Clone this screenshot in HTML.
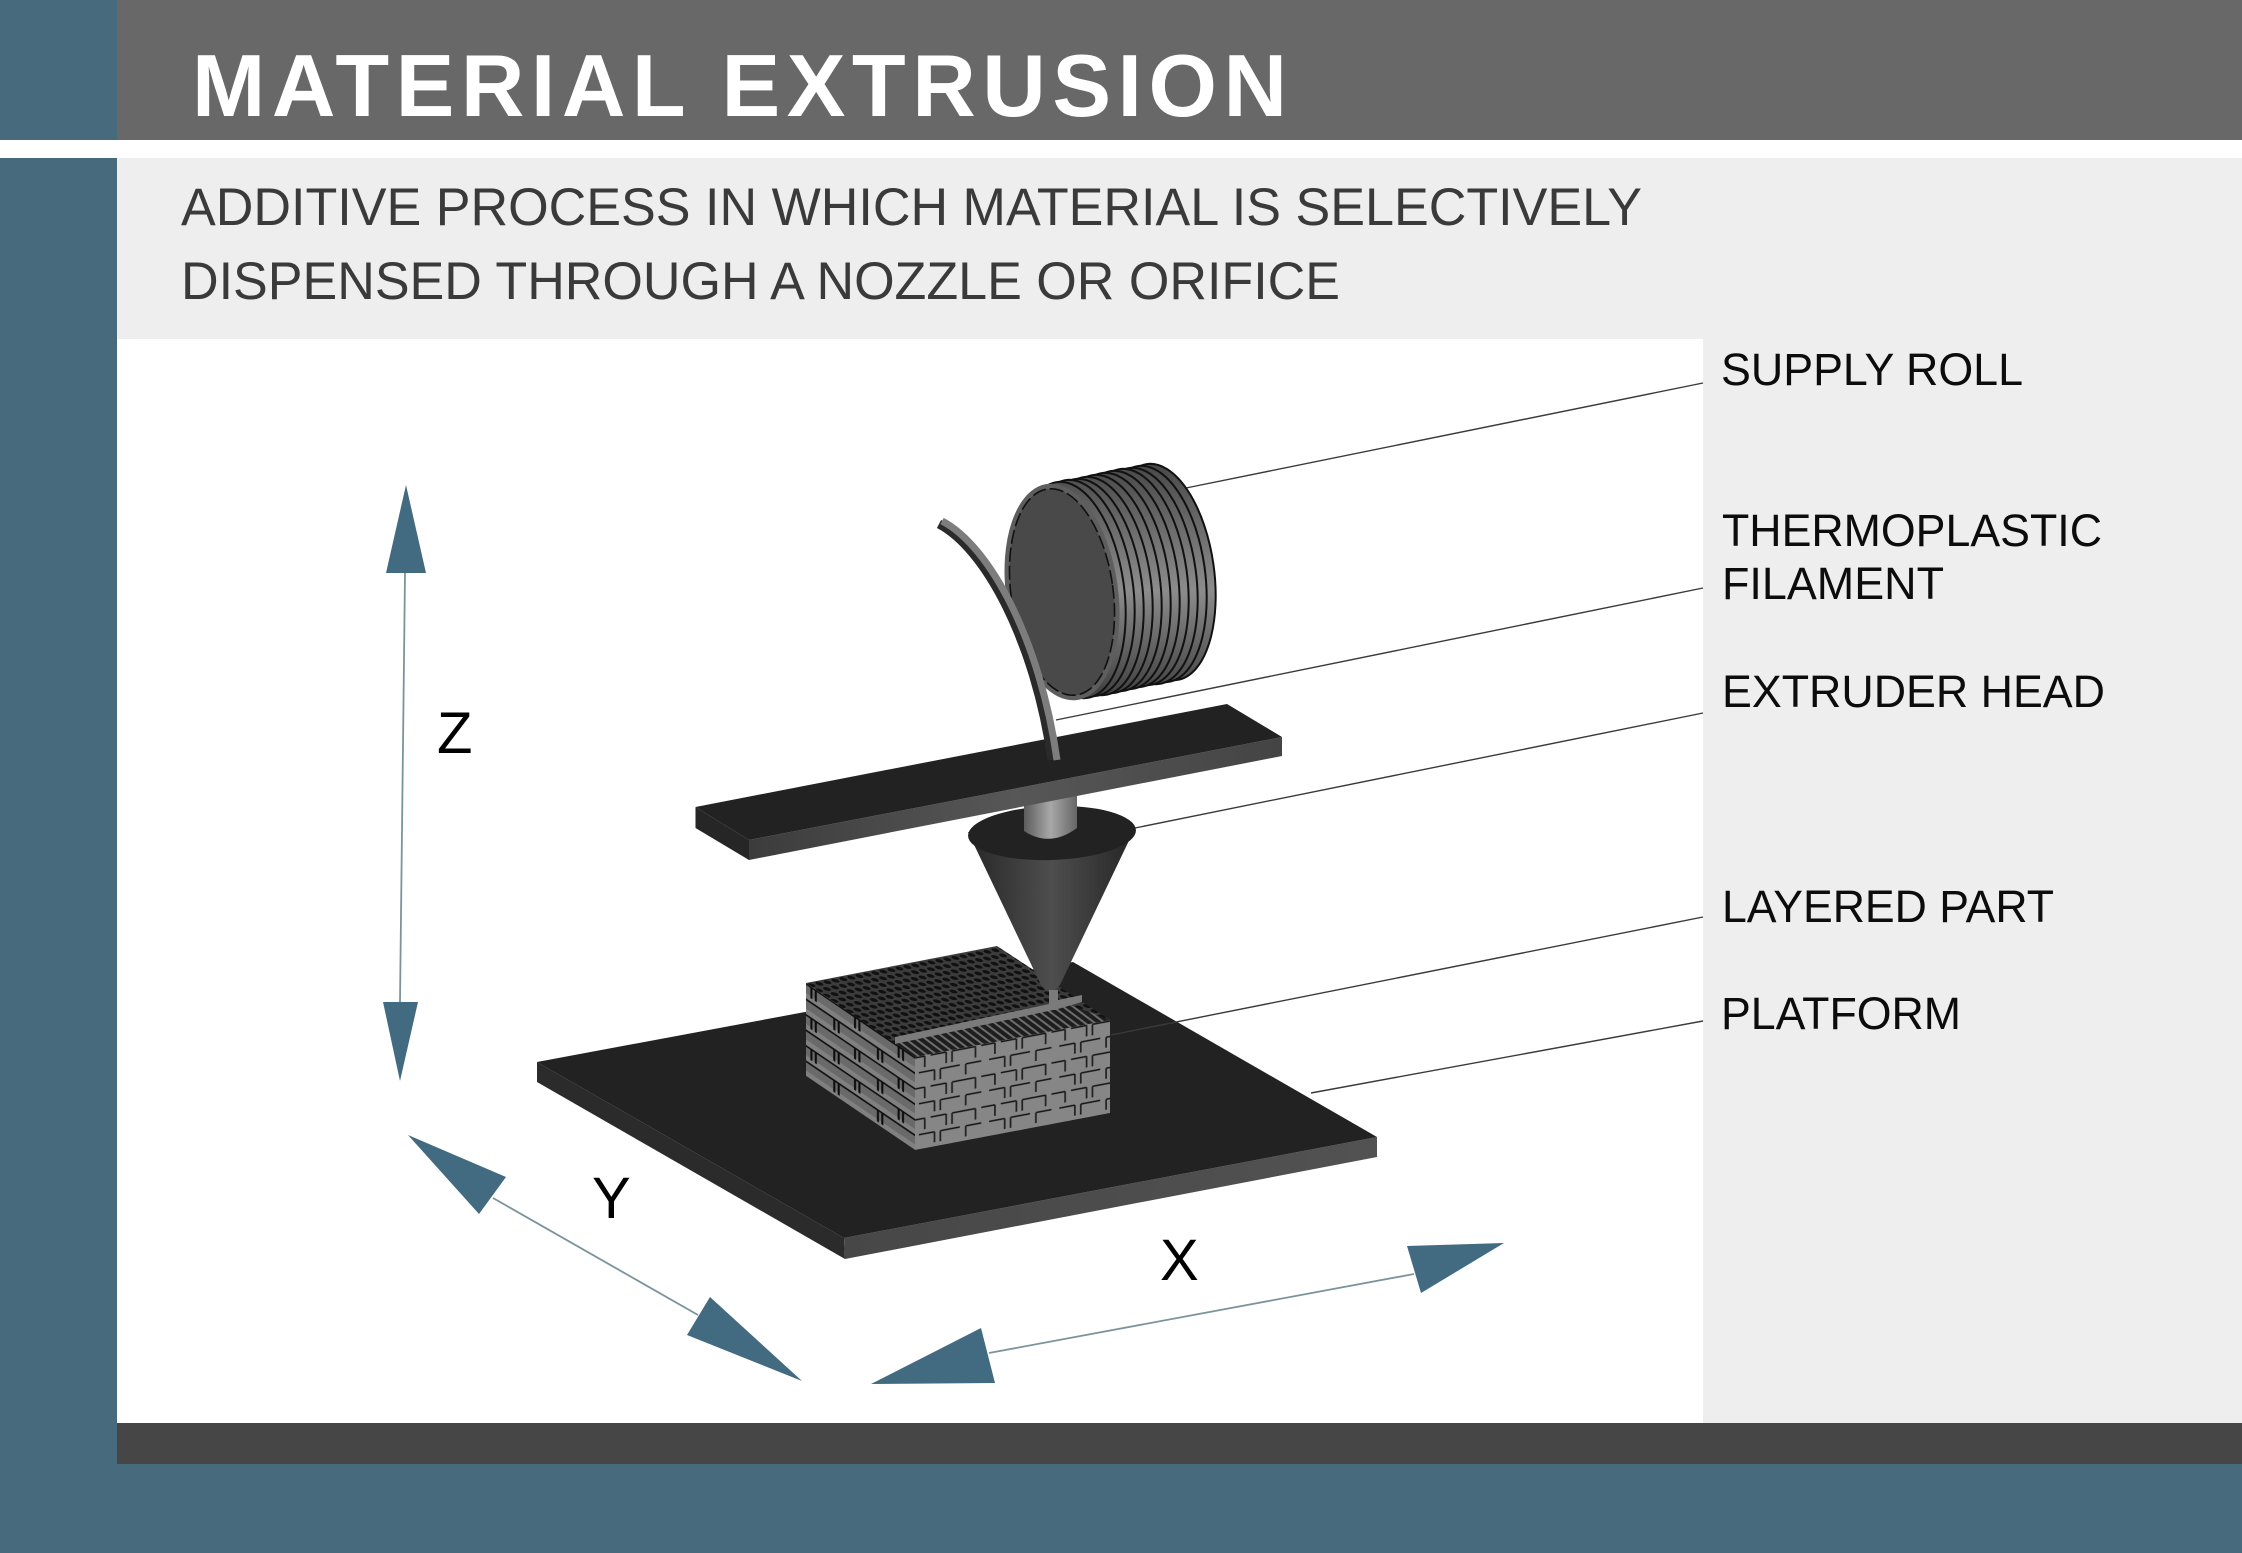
<!DOCTYPE html>
<html lang="en">
<head>
<meta charset="utf-8">
<title>Material Extrusion</title>
<style>
html,body{margin:0;padding:0;background:#fff;}
svg{display:block;}
text{font-family:"Liberation Sans",Arial,sans-serif;}
</style>
</head>
<body>
<svg xmlns="http://www.w3.org/2000/svg" width="2242" height="1553" viewBox="0 0 2242 1553">
<defs>
  <linearGradient id="coneG" gradientUnits="userSpaceOnUse" x1="968" y1="0" x2="1135" y2="0">
    <stop offset="0" stop-color="#272727"/><stop offset=".5" stop-color="#4e4e4e"/><stop offset="1" stop-color="#252525"/>
  </linearGradient>
  <linearGradient id="cylG" gradientUnits="userSpaceOnUse" x1="1024" y1="0" x2="1077" y2="0">
    <stop offset="0" stop-color="#5c5c5c"/><stop offset=".5" stop-color="#a8a8a8"/><stop offset="1" stop-color="#666"/>
  </linearGradient>
  <linearGradient id="beamG" gradientUnits="userSpaceOnUse" x1="749" y1="0" x2="1282" y2="0">
    <stop offset="0" stop-color="#3c3c3c"/><stop offset=".5" stop-color="#575757"/><stop offset="1" stop-color="#444"/>
  </linearGradient>
  <linearGradient id="platG" gradientUnits="userSpaceOnUse" x1="845" y1="0" x2="1377" y2="0">
    <stop offset="0" stop-color="#474747"/><stop offset="1" stop-color="#525252"/>
  </linearGradient>
  <linearGradient id="spoolG" gradientUnits="userSpaceOnUse" x1="0" y1="465" x2="0" y2="705">
    <stop offset="0" stop-color="#484848"/><stop offset=".55" stop-color="#8c8c8c"/><stop offset="1" stop-color="#3c3c3c"/>
  </linearGradient>
  <pattern id="bl" patternUnits="userSpaceOnUse" width="40" height="31">
    <rect width="40" height="31" fill="#6a6a6a"/>
    <rect y="10" width="40" height="5" fill="#808080"/>
    <rect y="25.5" width="40" height="5" fill="#808080"/>
    <path d="M0 .8H40M0 16.3H40" stroke="#0d0d0d" stroke-width="1.8"/>
    <path d="M5 1V12M9 1V12M26 16V28M30 16V28" stroke="#0d0d0d" stroke-width="1.9" fill="none"/>
  </pattern>
  <pattern id="br" patternUnits="userSpaceOnUse" width="36" height="31">
    <rect width="36" height="31" fill="#868686"/>
    <path d="M0 1H5M8 1H16M19 1H31M34 1H36M2 16.5H10M13 16.5H23M26 16.5H34" stroke="#111" stroke-width="1.5" fill="none"/>
    <path d="M5 1V12M16 1V12M19 1V12M31 1V12M10 16.5V27M13 16.5V27M26 16.5V27" stroke="#222" stroke-width=".9" fill="none"/>
  </pattern>
  <pattern id="topP" patternUnits="userSpaceOnUse" width="8" height="8" patternTransform="matrix(1,-.19,.95,.65,0,0)">
    <rect width="8" height="8" fill="#3c3c3c"/>
    <circle cx="4" cy="4" r="2.9" fill="#111"/>
  </pattern>
  <pattern id="stripeP" patternUnits="userSpaceOnUse" width="8" height="8" patternTransform="matrix(1,-.19,.8,.6,0,0)">
    <rect width="8" height="8" fill="#1e1e1e"/>
    <rect width="2.6" height="8" fill="#6e6e6e"/>
  </pattern>
</defs>

<!-- Background blocks -->
<rect width="2242" height="1553" fill="#fff"/>
<rect x="117" y="0" width="2125" height="140" fill="#686868"/>
<rect x="0" y="0" width="117" height="140" fill="#476a7d"/>
<rect x="0" y="158" width="117" height="1395" fill="#476a7d"/>
<rect x="117" y="158" width="2125" height="181" fill="#eeeeef"/>
<rect x="1703" y="339" width="539" height="1084" fill="#eeeeef"/>
<rect x="117" y="1423" width="2125" height="41" fill="#464646"/>
<rect x="117" y="1464" width="2125" height="89" fill="#476a7d"/>

<!-- Header text -->
<text x="192" y="116" font-size="88" font-weight="700" fill="#ffffff" textLength="1095" lengthAdjust="spacing">MATERIAL EXTRUSION</text>
<text x="181" y="225" font-size="53" fill="#3a3a3a" textLength="1461" lengthAdjust="spacingAndGlyphs">ADDITIVE PROCESS IN WHICH MATERIAL IS SELECTIVELY</text>
<text x="181" y="299" font-size="53" fill="#3a3a3a" textLength="1159" lengthAdjust="spacingAndGlyphs">DISPENSED THROUGH A NOZZLE OR ORIFICE</text>

<!-- Right labels -->
<g font-size="45" fill="#0c0c0c">
  <text x="1721" y="385" textLength="302" lengthAdjust="spacingAndGlyphs">SUPPLY ROLL</text>
  <text x="1722" y="546" textLength="380" lengthAdjust="spacingAndGlyphs">THERMOPLASTIC</text>
  <text x="1722" y="599" textLength="222" lengthAdjust="spacingAndGlyphs">FILAMENT</text>
  <text x="1722" y="707" textLength="383" lengthAdjust="spacingAndGlyphs">EXTRUDER HEAD</text>
  <text x="1722" y="922" textLength="332" lengthAdjust="spacingAndGlyphs">LAYERED PART</text>
  <text x="1721" y="1029" textLength="240" lengthAdjust="spacingAndGlyphs">PLATFORM</text>
</g>

<!-- Platform -->
<polygon points="537,1062 844,1238 845,1259 537,1082" fill="#2b2b2b"/>
<polygon points="844,1238 1377,1137 1377,1157 845,1259" fill="url(#platG)"/>
<polygon points="537,1062 1073,962 1377,1137 844,1238" fill="#222222"/>

<!-- Layered part -->
<polygon points="806,983 997,946 1110,1020 915,1057" fill="url(#topP)"/>
<polygon points="895,1043 1070,1005 1110,1020 915,1057" fill="url(#stripeP)"/>
<g transform="matrix(1.09,.74,0,1,806,983)"><rect width="100" height="93" fill="url(#bl)"/></g>
<g transform="matrix(1.95,-.37,0,1,915,1057)"><rect width="100" height="93" fill="url(#br)"/></g>
<polygon points="895,1037 1049,1004 1058,1000 1082,995 1082,1002 1058,1009 895,1044" fill="#7b7b7b"/>

<!-- Leader lines -->
<g stroke="#3a3a3a" stroke-width="1.4" fill="none">
  <line x1="1703" y1="383" x2="1186" y2="488"/>
  <line x1="1703" y1="588" x2="1056" y2="720"/>
  <line x1="1703" y1="713" x2="1135" y2="828"/>
  <line x1="1703" y1="917" x2="1111" y2="1035"/>
  <line x1="1703" y1="1021" x2="1311" y2="1093"/>
</g>

<!-- Cone and cylinder -->
<path d="M968,832 L1041,985 Q1050,998 1060,985 L1135,828 Z" fill="url(#coneG)"/>
<ellipse cx="1052" cy="833" rx="84" ry="27" transform="rotate(-2 1052 833)" fill="#222"/>
<path d="M1024,790 H1077 V828 Q1050,848 1024,831 Z" fill="url(#cylG)"/>
<rect x="1049" y="990" width="9" height="20" fill="#7b7b7b"/>

<!-- Beam -->
<polygon points="695.5,807 749,840 749,860 695.5,828" fill="#262626"/>
<polygon points="749,840 1282,737 1282,756 749,860" fill="url(#beamG)"/>
<polygon points="695.5,807 1227,704 1282,737 749,840" fill="#222222"/>

<!-- Spool -->
<g stroke="#111" stroke-width="2" fill="url(#spoolG)">
  <ellipse cx="1162" cy="572" rx="52" ry="109" transform="rotate(-8 1162 572)"/>
  <ellipse cx="1153" cy="574" rx="52" ry="109" transform="rotate(-8 1153 574)"/>
  <ellipse cx="1144" cy="576" rx="52" ry="109" transform="rotate(-8 1144 576)"/>
  <ellipse cx="1135" cy="577" rx="52" ry="109" transform="rotate(-8 1135 577)"/>
  <ellipse cx="1126" cy="579" rx="52" ry="109" transform="rotate(-8 1126 579)"/>
  <ellipse cx="1117" cy="581" rx="52" ry="109" transform="rotate(-8 1117 581)"/>
  <ellipse cx="1108" cy="583" rx="52" ry="109" transform="rotate(-8 1108 583)"/>
  <ellipse cx="1099" cy="585" rx="52" ry="109" transform="rotate(-8 1099 585)"/>
  <ellipse cx="1090" cy="587" rx="52" ry="109" transform="rotate(-8 1090 587)"/>
  <ellipse cx="1081" cy="588" rx="52" ry="109" transform="rotate(-8 1081 588)"/>
  <ellipse cx="1072" cy="590" rx="52" ry="109" transform="rotate(-8 1072 590)"/>
</g>
<ellipse cx="1062" cy="592" rx="56" ry="109" transform="rotate(-8 1062 592)" fill="#5e5e5e"/>
<ellipse cx="1062" cy="592" rx="51" ry="104" transform="rotate(-8 1062 592)" fill="#494949" stroke="#111" stroke-width="1.6" stroke-dasharray="14 4"/>

<!-- Filament -->
<path d="M939,524 C985,548 1035,640 1052,760" fill="none" stroke="#2a2a2a" stroke-width="9"/>
<path d="M942,521 C990,546 1040,640 1057,760" fill="none" stroke="#7d7d7d" stroke-width="7"/>

<!-- Axes -->
<g stroke="#7b949c" stroke-width="1.8" fill="none">
  <line x1="405" y1="573" x2="400" y2="1002"/>
  <line x1="493" y1="1198" x2="698" y2="1315"/>
  <line x1="989" y1="1353" x2="1414" y2="1274"/>
</g>
<g fill="#426a80">
  <polygon points="406,485 426,573 386,573"/>
  <polygon points="383,1002 418,1002 400,1081"/>
  <polygon points="408,1135 506,1177 479,1214"/>
  <polygon points="710,1297 802,1381 687,1335"/>
  <polygon points="871,1384 981,1328 995,1383"/>
  <polygon points="1407,1246 1504,1243 1421,1293"/>
</g>
<g font-size="58" fill="#000">
  <text x="437" y="753">Z</text>
  <text x="592" y="1218">Y</text>
  <text x="1160" y="1280">X</text>
</g>
</svg>
</body>
</html>
